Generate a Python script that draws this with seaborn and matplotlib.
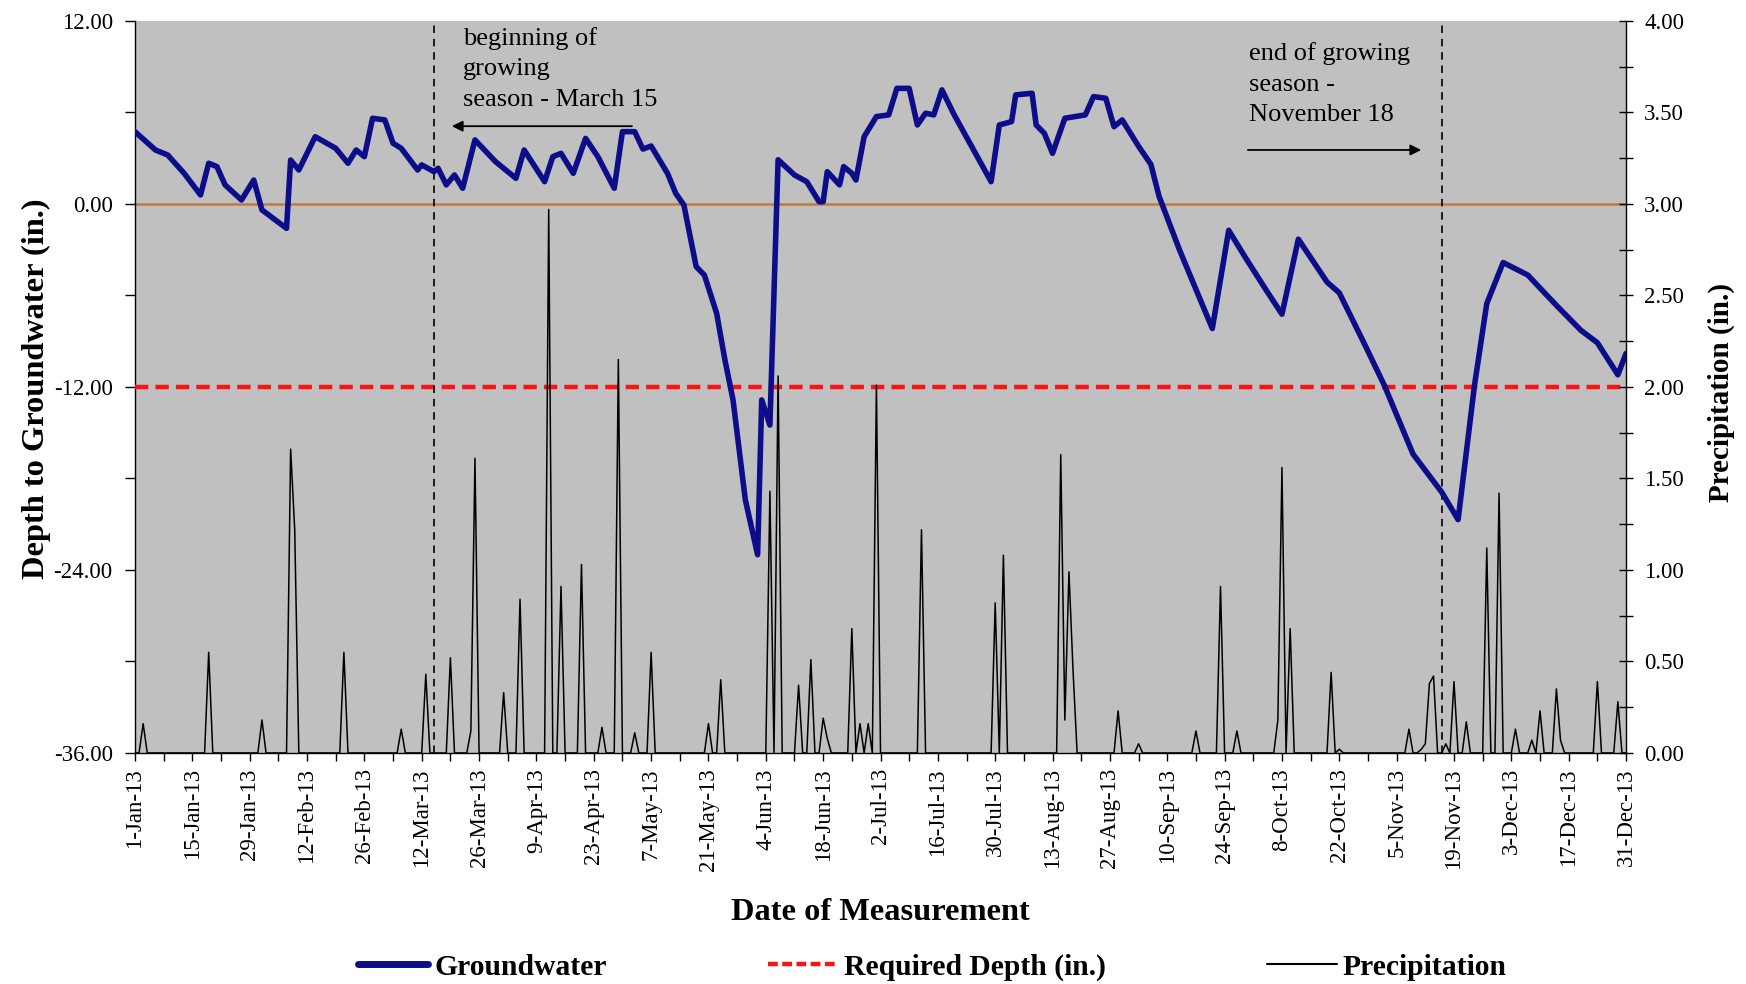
import numpy as np
import pandas as pd
import matplotlib
matplotlib.use("Agg")
import matplotlib.pyplot as plt
import matplotlib.dates as mdates
from matplotlib.ticker import FuncFormatter, MultipleLocator, FixedLocator
from matplotlib.lines import Line2D
import seaborn as sns

# ---------------- data ----------------
# day of year offset (0 = 1-Jan-13) and depth to groundwater (in.)
gw_day = [0, 5, 8, 12, 16, 18, 20, 22, 26, 29, 31, 37, 38, 40, 44, 49, 52, 54, 56, 58,
          61, 63, 65, 69, 70, 73, 74, 76, 78, 80, 83, 88, 93, 95, 100, 102, 104, 107, 110, 113,
          117, 119, 122, 124, 126, 130, 132, 134, 137, 139, 142, 144, 146, 149, 152, 153, 155, 157, 161, 164,
          167, 168, 169, 172, 173, 175, 176, 178, 181, 184, 186, 189, 191, 193, 195, 197, 200, 209, 211, 214,
          215, 219, 220, 222, 224, 227, 232, 234, 237, 239, 241, 245, 248, 250, 255, 263, 267, 271, 276, 280,
          284, 291, 294, 300, 305, 312, 319, 323, 327, 330, 334, 340, 347, 353, 357, 362, 364]
gw_in = [4.74, 3.54, 3.21, 2.01, 0.59, 2.67, 2.45, 1.25, 0.26, 1.57, -0.39, -1.6, 2.88, 2.23, 4.41, 3.65, 2.67, 3.54, 3.1, 5.62,
         5.51, 3.98, 3.65, 2.23, 2.56, 2.12, 2.34, 1.25, 1.9, 1.03, 4.2, 2.78, 1.68, 3.54, 1.46, 3.1, 3.32, 2.01, 4.3, 3.1,
         1.03, 4.74, 4.74, 3.6, 3.8, 2.01, 0.7, -0.07, -4.11, -4.66, -7.17, -10.2, -12.85, -19.4, -23.0, -12.85, -14.5, 2.9, 1.9, 1.46,
         0.15, 0.15, 2.12, 1.25, 2.45, 2.01, 1.57, 4.41, 5.73, 5.84, 7.58, 7.58, 5.18, 5.95, 5.84, 7.48, 5.84, 1.46, 5.18, 5.4,
         7.15, 7.26, 5.18, 4.63, 3.32, 5.62, 5.84, 7.04, 6.93, 5.07, 5.51, 3.78, 2.6, 0.5, -3.02, -8.17, -1.73, -3.48, -5.59, -7.23,
         -2.31, -5.12, -5.83, -9.1, -11.9, -16.4, -18.9, -20.7, -11.9, -6.53, -3.84, -4.66, -6.65, -8.29, -9.1, -11.2, -9.8]

# rain days (day of year offset) and daily precipitation (in.); other days had none
rain_day = [2, 18, 31, 38, 39, 51, 65, 71, 77, 82, 83, 90, 94, 101, 104, 109, 114, 118, 122, 126,
            140, 143, 155, 157, 162, 165, 168, 169, 175, 177, 179, 181, 192, 210, 212, 226, 227, 228, 229, 240,
            245, 259, 265, 269, 279, 280, 282, 292, 294, 311, 314, 315, 316, 317, 320, 322, 325, 330, 333, 337,
            341, 343, 347, 348, 357, 362]
rain_in = [0.16, 0.55, 0.18, 1.66, 1.22, 0.55, 0.13, 0.43, 0.52, 0.12, 1.61, 0.33, 0.84, 2.97, 0.91, 1.03, 0.14, 2.15, 0.11, 0.55,
           0.16, 0.40, 1.43, 2.06, 0.37, 0.51, 0.19, 0.08, 0.68, 0.16, 0.16, 2.01, 1.22, 0.82, 1.08, 1.63, 0.18, 0.99, 0.45, 0.23,
           0.05, 0.12, 0.91, 0.12, 0.18, 1.56, 0.68, 0.44, 0.02, 0.13, 0.02, 0.05, 0.38, 0.42, 0.05, 0.39, 0.17, 1.12, 1.42, 0.13,
           0.07, 0.23, 0.35, 0.07, 0.39, 0.28]

required_depth = -12.0
ground_level = 0.0
season_start = "2013-03-15"
season_end_line = "2013-11-16"
year_start = "2013-01-01"
year_end = "2013-12-31"

left_ticks = [-36, -24, -12, 0, 12]
right_ticks = [0, 0.5, 1.0, 1.5, 2.0, 2.5, 3.0, 3.5, 4.0]

# ---------------- styling ----------------
sns.set_theme(style="ticks")
plt.rcParams['font.family'] = ['Liberation Serif', 'DejaVu Serif']
plt.rcParams.update({
    'axes.edgecolor': 'black', 'xtick.color': 'black', 'ytick.color': 'black',
    'text.color': 'black', 'axes.labelcolor': 'black', 'axes.linewidth': 1.0,
})

NAVY = '#0D0D8A'
ORANGE = '#C07A40'
RED = '#F51515'

start = pd.Timestamp(year_start)
end = pd.Timestamp(year_end)
gw_df = pd.DataFrame({"date": start + pd.to_timedelta(gw_day, unit="D"), "depth": gw_in})
all_days = pd.date_range(start, end, freq="D")
rain = pd.Series(rain_in, index=start + pd.to_timedelta(rain_day, unit="D"))
pr_df = pd.DataFrame({"date": all_days, "precip": rain.reindex(all_days, fill_value=0.0).values})

fig = plt.figure(figsize=(17.46, 9.84), dpi=100)
ax = fig.add_axes([0.0773, 0.2348, 0.854, 0.7439])
ax.set_facecolor('#C0C0C0')
ax2 = ax.twinx()
ax2.patch.set_visible(False)

ax.axhline(ground_level, color=ORANGE, lw=1.8, zorder=2)
ax.axhline(required_depth, color=RED, lw=3.2, dashes=(3.0, 1.6), zorder=3)
ax.axvline(pd.Timestamp(season_start), color='black', lw=1.2, dashes=(4.5, 3.5), zorder=3)
ax.axvline(pd.Timestamp(season_end_line), color='black', lw=1.2, dashes=(4.5, 3.5), zorder=3)

sns.lineplot(data=gw_df, x="date", y="depth", ax=ax, color=NAVY, linewidth=4.0, zorder=5)
sns.lineplot(data=pr_df, x="date", y="precip", ax=ax2, color='black', linewidth=1.1)
for a in (ax, ax2):
    if a.get_legend() is not None:
        a.get_legend().remove()

ax.set_xlim(start, end)
ax.set_ylim(-36, 12)
ax2.set_ylim(0, 4)

ax.xaxis.set_major_locator(FixedLocator(mdates.date2num(pd.date_range(start, end, freq="14D"))))
ax.xaxis.set_minor_locator(FixedLocator(mdates.date2num(pd.date_range(start, end, freq="7D"))))
def date_fmt(x, pos):
    d = mdates.num2date(x)
    return f"{d.day}-{d.strftime('%b')}-{d.strftime('%y')}"
ax.xaxis.set_major_formatter(FuncFormatter(date_fmt))
ax.set_yticks(left_ticks)
ax.yaxis.set_minor_locator(MultipleLocator(6))
ax.yaxis.set_major_formatter(FuncFormatter(lambda v, p: f"{v:.2f}"))
ax2.set_yticks(right_ticks)
ax2.yaxis.set_minor_locator(MultipleLocator(0.25))
ax2.yaxis.set_major_formatter(FuncFormatter(lambda v, p: f"{v:.2f}"))

TICK = 16.5
ax.tick_params(axis='y', which='both', direction='out', length=7, width=1, pad=9, labelsize=TICK)
ax.tick_params(axis='x', which='both', direction='out', length=6, width=1, pad=5, labelsize=TICK, labelrotation=90)
ax2.tick_params(axis='y', which='both', direction='inout', length=10, width=1, pad=8, labelsize=TICK)

ax.spines['top'].set_visible(False)
ax.spines['right'].set_visible(False)
for s in ('top', 'left', 'bottom'):
    ax2.spines[s].set_visible(False)

ax.set_xlabel("Date of Measurement", fontsize=23.3, fontweight='bold')
ax.xaxis.set_label_coords(0.5, -0.2186)
ax.xaxis.label.set_va('center')
ax.set_ylabel("Depth to Groundwater (in.)", fontsize=23.3, fontweight='bold')
ax.yaxis.set_label_coords(-0.066, 0.498)
ax.yaxis.label.set_va('center')
ax2.set_ylabel("Precipitation (in.)", fontsize=21, fontweight='bold')
ax2.yaxis.set_label_coords(1.0637, 0.4925)
ax2.yaxis.label.set_va('center')

# annotations
ax.text(0.22, 0.992, "beginning of\ngrowing\nseason - March 15", transform=ax.transAxes,
        ha='left', va='top', fontsize=19, linespacing=1.5, zorder=6)
ax.annotate("", xy=(pd.Timestamp("2013-03-18 16:00"), 5.1), xytext=(pd.Timestamp("2013-05-03"), 5.1),
            arrowprops=dict(arrowstyle='-|>', color='black', lw=1.3, mutation_scale=16), zorder=6)
ax.text(0.7474, 0.971, "end of growing\nseason -\nNovember 18", transform=ax.transAxes,
        ha='left', va='top', fontsize=19, linespacing=1.5, zorder=6)
ax.annotate("", xy=(pd.Timestamp("2013-11-11 16:00"), 3.54), xytext=(pd.Timestamp("2013-09-29"), 3.54),
            arrowprops=dict(arrowstyle='-|>', color='black', lw=1.3, mutation_scale=16), zorder=6)

handles = [Line2D([], [], color=NAVY, lw=5),
           Line2D([], [], color=RED, lw=3.2, dashes=(2.2, 1.0)),
           Line2D([], [], color='black', lw=1.5)]
labels = ["Groundwater", "Required Depth (in.)", "Precipitation"]
fig.legend(handles, labels, loc='center', bbox_to_anchor=(0.534, 0.017), ncol=3, frameon=False,
           prop={'weight': 'bold', 'size': 21.3, 'family': ['Liberation Serif', 'DejaVu Serif']},
           handlelength=2.37, handletextpad=0.19, columnspacing=5.45)

fig.savefig("out.png", dpi=100)
